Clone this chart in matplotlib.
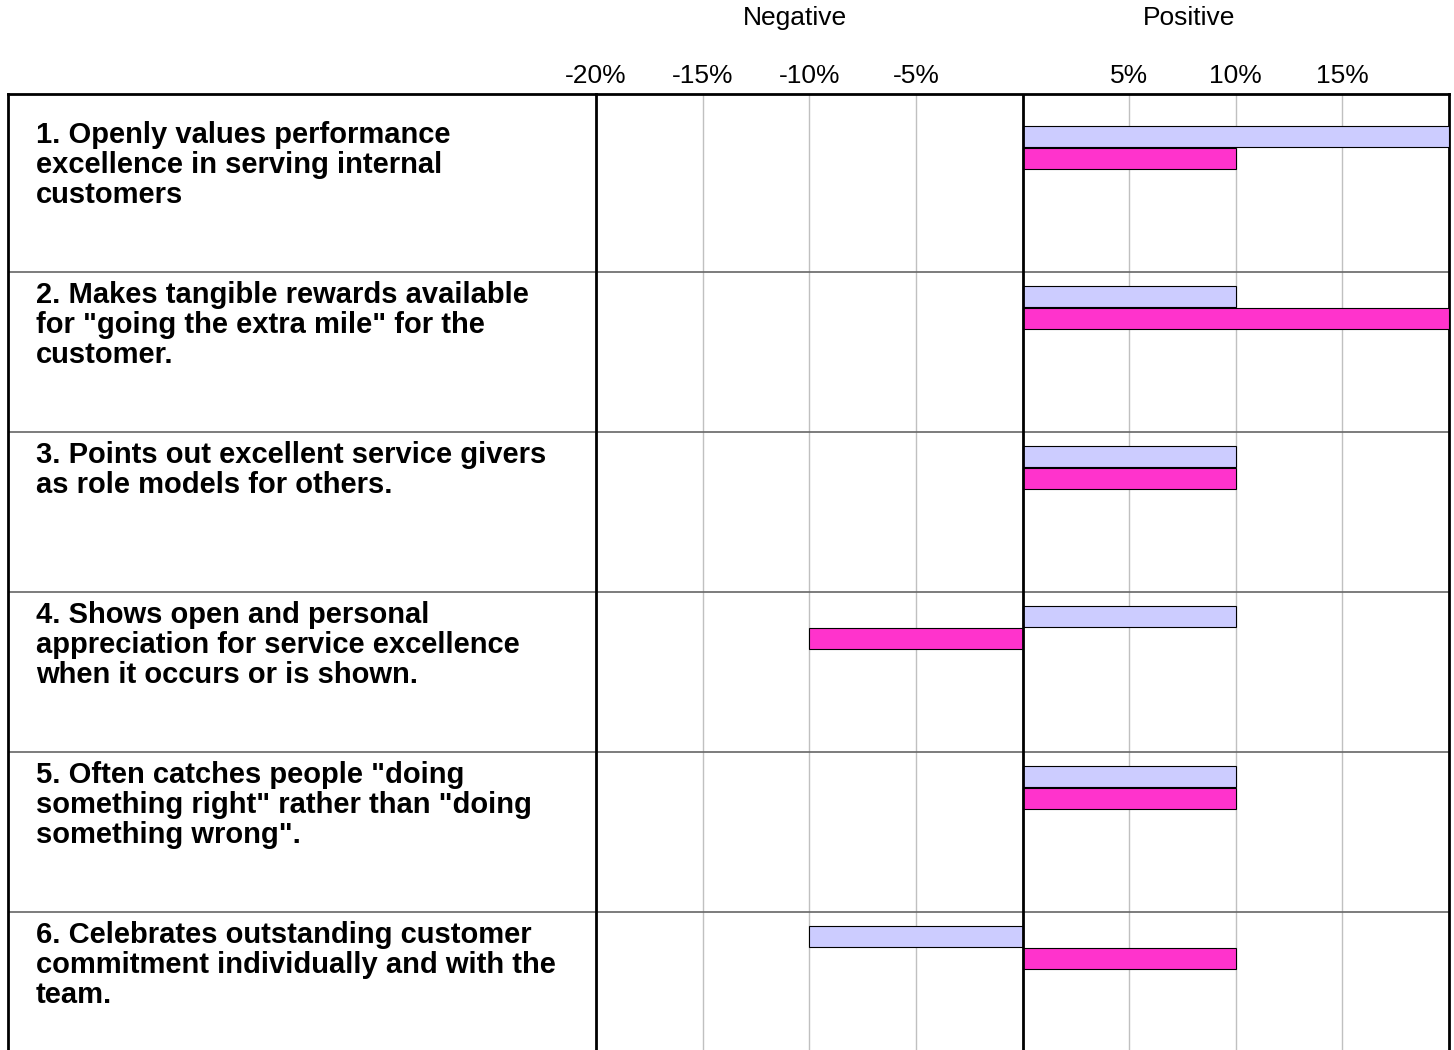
import matplotlib.pyplot as plt

plt.rcParams['font.family'] = ['Liberation Sans', 'DejaVu Sans']

items = [
    '1. Openly values performance\nexcellence in serving internal\ncustomers',
    '2. Makes tangible rewards available\nfor "going the extra mile" for the\ncustomer.',
    '3. Points out excellent service givers\nas role models for others.',
    '4. Shows open and personal\nappreciation for service excellence\nwhen it occurs or is shown.',
    '5. Often catches people "doing\nsomething right" rather than "doing\nsomething wrong".',
    '6. Celebrates outstanding customer\ncommitment individually and with the\nteam.',
]
serie_a = [20, 10, 10, 10, 10, -10]
serie_b = [10, 20, 10, -10, 10, 10]
ticks = [-20, -15, -10, -5, 0, 5, 10, 15, 20]
tick_labels = ['-20%', '-15%', '-10%', '-5%', '', '5%', '10%', '15%', '']

W, H = 1454, 1050
fig = plt.figure(figsize=(W / 100, H / 100), dpi=100)

# filas de 160 px; la primera empieza en y=112, el marco superior esta en y=94
y_top = (94 - 112) / 160
y_bot = (1050 - 112) / 160
ax_top = 1 - 94 / H

lax = fig.add_axes([8 / W, 0, (596 - 8) / W, ax_top])
ax = fig.add_axes([596 / W, 0, (1449 - 596) / W, ax_top])

for a in (lax, ax):
    a.set_ylim(y_bot, y_top)
    a.spines['bottom'].set_visible(False)
    for s in ('top', 'left', 'right'):
        a.spines[s].set_linewidth(2)
        a.spines[s].set_color('black')
    for k in range(1, len(items)):
        a.axhline(k, color='#666666', lw=1.2, zorder=1)

lax.spines['right'].set_visible(False)
lax.set_xlim(0, 588)
lax.set_xticks([])
lax.set_yticks([])
for i, txt in enumerate(items):
    lax.text(28, i + 0.055, txt, fontsize=21, fontweight='bold',
             va='top', ha='left', linespacing=1.09)

ax.set_xlim(-20, 20)
ax.set_xticks(ticks)
ax.set_xticklabels(tick_labels, fontsize=19)
ax.xaxis.tick_top()
ax.tick_params(axis='x', length=0, pad=4)
ax.set_yticks([])
ax.set_axisbelow(True)
ax.grid(axis='x', color='#c0c0c0', lw=1)
ax.axvline(0, color='black', lw=2, zorder=4)

pos = range(len(items))
ax.barh([p + 0.155 for p in pos], serie_a, height=0.13, color='#ccccff',
        edgecolor='black', lw=0.8, zorder=3)
ax.barh([p + 0.29 for p in pos], serie_b, height=0.13, color='#ff33cc',
        edgecolor='black', lw=0.8, zorder=3)

fig.text(795 / W, 1 - 18 / H, 'Negative', fontsize=19, ha='center', va='center')
fig.text(1189 / W, 1 - 18 / H, 'Positive', fontsize=19, ha='center', va='center')

fig.savefig('out.png', dpi=100)
